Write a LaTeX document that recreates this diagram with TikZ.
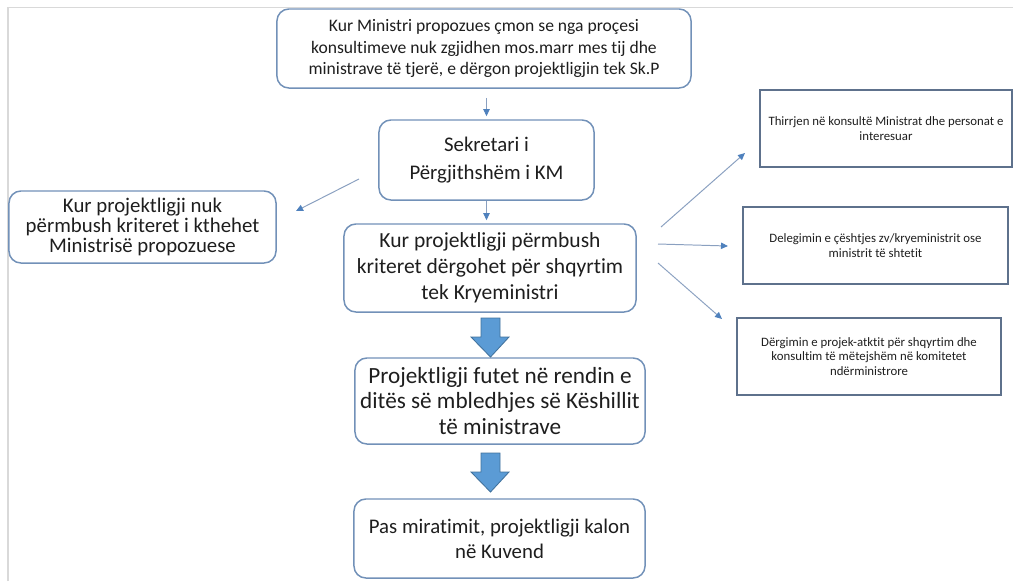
\documentclass[tikz,border=0pt]{standalone}
\usepackage{fontspec}
\setmainfont{Carlito}[Ligatures=NoCommon]
\usepackage{xcolor}
\usepackage{tikz}
\usetikzlibrary{arrows.meta,positioning}
\definecolor{boxline}{RGB}{114,145,184}
\definecolor{sideline}{RGB}{94,113,140}
\definecolor{linkline}{RGB}{138,160,192}
\definecolor{tipblue}{RGB}{79,129,189}
\definecolor{arrowfill}{RGB}{91,155,213}
\definecolor{arrowline}{RGB}{65,113,156}
\definecolor{pageline}{RGB}{217,217,217}
\definecolor{txt}{RGB}{30,30,30}

\begin{document}
\begin{tikzpicture}[x=0.025cm,y=-0.025cm,
    roundbox/.style={draw=boxline,line width=1.05pt,rounded corners=8.5pt,align=center,text=txt,inner sep=0pt},
    sidebox/.style={draw=sideline,line width=0.9pt,align=center,text=txt,inner sep=0pt,minimum height=1.925cm,
      font=\fontsize{9.1}{10.6}\selectfont},
    link/.style={draw=linkline,line width=0.7pt,-{Triangle[length=5pt,width=4.5pt,color=tipblue]}},
    bigarrow/.style={fill=arrowfill,draw=arrowline,line width=0.6pt}]
        \useasboundingbox (0,0) rectangle (1013,581);
        \draw[pageline,line width=1.1pt] (8,581) -- (8,7.5) -- (1013,7.5);

        \node[roundbox,minimum width=10.35cm,minimum height=1.975cm,font=\fontsize{12.5}{15.6}\selectfont] (start) at (484,48.5)
            {Kur Ministri propozues çmon se nga proçesi\\konsultimeve nuk zgjidhen mos.marr mes tij dhe\\ministrave të tjerë, e dërgon projektligjin tek Sk.P};
        \node[roundbox,minimum width=5.375cm,minimum height=2cm,font=\fontsize{14.8}{19.8}\selectfont] (sekr) at (486.5,160)
            {Sekretari i\\Përgjithshëm i KM};
        \node[roundbox,minimum width=6.675cm,minimum height=1.8cm,font=\fontsize{14.8}{14.2}\selectfont] (kthim) at (142.5,227)
            {Kur projektligji nuk\\përmbush kriteret i kthehet\\Ministrisë propozuese};
        \node[roundbox,minimum width=7.3cm,minimum height=2.2cm,font=\fontsize{15.3}{18.5}\selectfont] (krit) at (490,268)
            {Kur projektligji përmbush\\kriteret dërgohet për shqyrtim\\tek Kryeministri};
        \node[roundbox,minimum width=7.25cm,minimum height=2.15cm,font=\fontsize{16.5}{18}\selectfont] (rendi) at (500,401)
            {Projektligji futet në rendin e\\ditës së mbledhjes së Këshillit\\të ministrave};
        \node[roundbox,minimum width=7.275cm,minimum height=1.975cm,font=\fontsize{14.8}{17.8}\selectfont] (kuvend) at (499.5,538.5)
            {Pas miratimit, projektligji kalon\\në Kuvend};

        \node[sidebox,minimum width=6.3cm] (thirrje) at (886,128.5)
            {Thirrjen në konsultë Ministrat dhe personat e\\interesuar};
        \node[sidebox,minimum width=6.625cm] (delegim) at (875.5,245.5)
            {Delegimin e çështjes zv/kryeministrit ose\\ministrit të shtetit};
        \node[sidebox,minimum width=6.6cm] (komitet) at (869,356.5)
            {Dërgimin e projek-atktit për shqyrtim dhe\\konsultim të mëtejshëm në komitetet\\ndërministrore};

        \draw[link,shorten <=0.225cm,shorten >=0.075cm] (start.south -| sekr.north) -- (sekr.north);
        \draw[link,shorten >=0.075cm] (sekr.south) -- (sekr.south |- krit.north);

        \coordinate (s1) at (359,179); \coordinate (e1) at (296,211);
        \coordinate (s2) at (661,227); \coordinate (e2) at (745,153);
        \coordinate (s3) at (658,244); \coordinate (e3) at (728,246);
        \coordinate (s4) at (658,263); \coordinate (e4) at (722,319);
        \draw[link] (s1) -- (e1);
        \draw[link] (s2) -- (e2);
        \draw[link] (s3) -- (e3);
        \draw[link] (s4) -- (e4);

        \foreach \y in {318,453}
            \draw[bigarrow] (481,\y) -- (500,\y) -- (500,\y+19) -- (509,\y+19) -- (490.5,\y+39)
                -- (471,\y+19) -- (481,\y+19) -- cycle;
    \end{tikzpicture}
\end{document}
